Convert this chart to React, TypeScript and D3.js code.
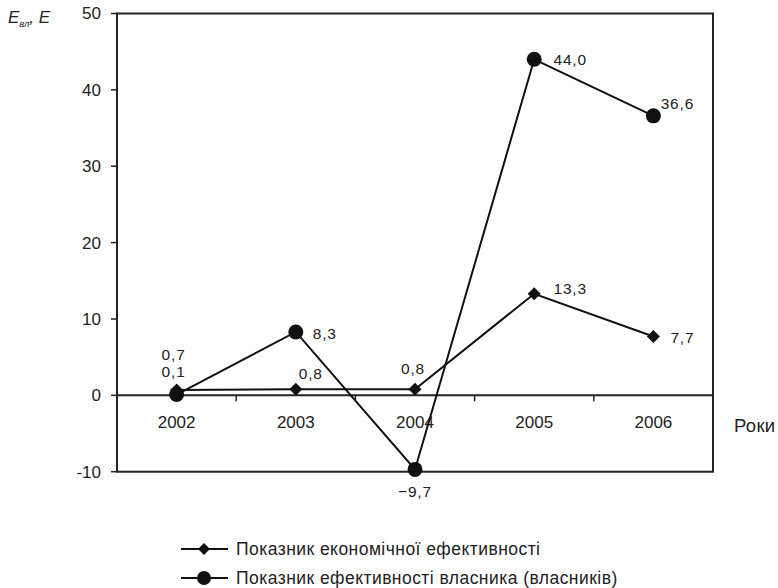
import React from "react";
import * as d3 from "d3";

const years = ["2002", "2003", "2004", "2005", "2006"];
const econ = [0.7, 0.8, 0.8, 13.3, 7.7];
const owner = [0.1, 8.3, -9.7, 44.0, 36.6];
const econLabels = ["0,7", "0,8", "0,8", "13,3", "7,7"];
const ownerLabels = ["0,1", "8,3", "−9,7", "44,0", "36,6"];
const yTicks = [-10, 0, 10, 20, 30, 40, 50];
const legendNames = ["Показник економічної ефективності", "Показник ефективності власника (власників)"];

// label offsets [dx, dy]
const econOff: [number, number][] = [[-3, -35], [15, -16], [-2, -21], [36, -5], [29, 1]];
const ownerOff: [number, number][] = [[-3, -23], [29, 2], [0, 22], [36, 0], [24, -12]];

export default function App() {
  const W = 778, H = 588;
  const left = 117, right = 713, top = 13.5, bottom = 471.7;
  const x = d3.scaleBand<string>().domain(years).range([left, right]);
  const y = d3.scaleLinear().domain([-10, 50]).range([bottom, top]);
  const cx = (i: number) => (x(years[i]) as number) + x.bandwidth() / 2;
  const line = d3.line<number>().x((_, i) => cx(i)).y((d) => y(d));
  const font = "'Liberation Sans', Arial, sans-serif";
  const diamond = (px: number, py: number, r = 6.5) => `M${px},${py - r}L${px + r},${py}L${px},${py + r}L${px - r},${py}Z`;
  return (
    <svg width={W} height={H} style={{ position: "absolute", left: 0, top: 0, fontFamily: font }}>
      <rect x={0} y={0} width={W} height={H} fill="#fff" />
      <rect x={left} y={top} width={right - left} height={bottom - top} fill="none" stroke="#222" strokeWidth={2} />
      <line x1={left} x2={right} y1={y(0)} y2={y(0)} stroke="#222" strokeWidth={2} />
      {yTicks.map((t) => (
        <g key={t}>
          <line x1={left - 6} x2={left} y1={y(t)} y2={y(t)} stroke="#222" strokeWidth={1.5} />
          <text x={left - 16} y={y(t)} dy="0.35em" textAnchor="end" fontSize={17} fill="#222">{t}</text>
        </g>
      ))}
      {years.map((yr, i) => (
        <g key={yr}>
          {i > 0 && <line x1={x(yr) as number} x2={x(yr) as number} y1={y(0)} y2={y(0) + 6} stroke="#222" strokeWidth={1.5} />}
          <text x={cx(i)} y={y(0) + 33} textAnchor="middle" fontSize={17} fill="#222">{yr}</text>
        </g>
      ))}
      <text x={734} y={432} fontSize={18.5} letterSpacing={0.3} fill="#222">Роки</text>
      <text x={8} y={23} fontSize={17} fontStyle="italic" fill="#222">
        E<tspan fontSize={9.5} dy={4}>вл</tspan><tspan dy={-4}>, E</tspan>
      </text>
      <path d={line(econ) as string} fill="none" stroke="#111" strokeWidth={2} />
      <path d={line(owner) as string} fill="none" stroke="#111" strokeWidth={2} />
      {econ.map((v, i) => <path key={"e" + i} d={diamond(cx(i), y(v))} fill="#111" />)}
      {owner.map((v, i) => <circle key={"o" + i} cx={cx(i)} cy={y(v)} r={7.5} fill="#111" />)}
      {econ.map((v, i) => (
        <text key={"el" + i} x={cx(i) + econOff[i][0]} y={y(v) + econOff[i][1]} dy="0.35em" textAnchor="middle" fontSize={15.5} letterSpacing={0.8} fill="#222">{econLabels[i]}</text>
      ))}
      {owner.map((v, i) => (
        <text key={"ol" + i} x={cx(i) + ownerOff[i][0]} y={y(v) + ownerOff[i][1]} dy="0.35em" textAnchor="middle" fontSize={15.5} letterSpacing={0.8} fill="#222">{ownerLabels[i]}</text>
      ))}
      {legendNames.map((n, i) => {
        const ly = 549 + i * 29;
        return (
          <g key={n}>
            <line x1={181} x2={228} y1={ly} y2={ly} stroke="#111" strokeWidth={2} />
            {i === 0 ? <path d={diamond(204, ly, 6)} fill="#111" /> : <circle cx={204} cy={ly} r={7} fill="#111" />}
            <text x={236} y={ly} dy="0.35em" fontSize={17.5} letterSpacing={0.45} fill="#222">{n}</text>
          </g>
        );
      })}
    </svg>
  );
}
